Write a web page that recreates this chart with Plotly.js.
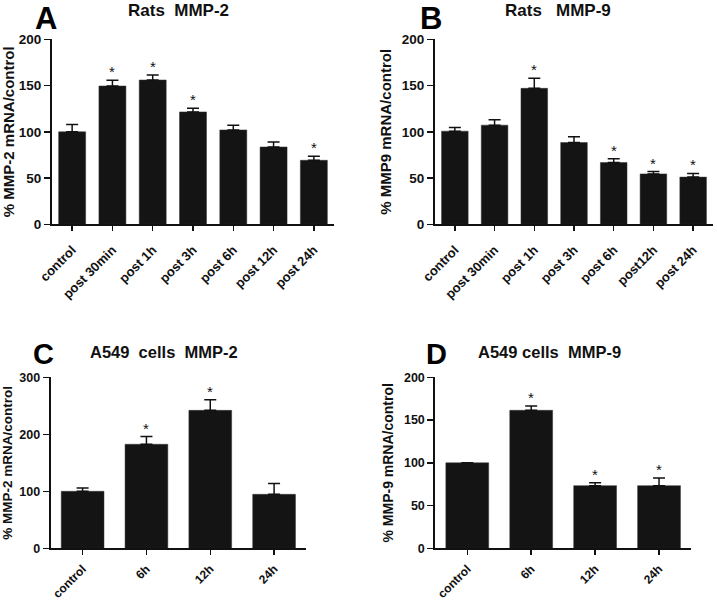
<!DOCTYPE html>
<html><head><meta charset="utf-8">
<script src="https://cdn.plot.ly/plotly-3.0.1.min.js"></script>
<style>body{margin:0;background:#fff}#chart{width:717px;height:600px}</style>
</head><body><div id="chart"></div>
<script>
// ---- data ----
const ratCategoriesA = ['control','post 30min','post 1h','post 3h','post 6h','post 12h','post 24h'];
const ratCategoriesB = ['control','post 30min','post 1h','post 3h','post 6h','post12h','post 24h'];
const ratMMP2 = [100, 149.5, 156, 121.5, 102, 83.6, 69.2];
const ratMMP2Err = [8, 6.2, 5.4, 4, 5, 5.4, 4.3];
const ratMMP2Sig = [false, true, true, true, false, false, true];
const ratMMP9 = [100.7, 107.2, 147, 88.4, 66.8, 54.5, 51];
const ratMMP9Err = [3.9, 5.8, 10.8, 6.2, 4, 2.5, 4];
const ratMMP9Sig = [false, false, true, false, true, true, true];
const cellCategories = ['control', '6h', '12h', '24h'];
const cellMMP2 = [100, 182.5, 242, 94.7];
const cellMMP2Err = [5.8, 13.5, 18.8, 18.8];
const cellMMP2Sig = [false, true, true, false];
const cellMMP9 = [100, 161.4, 73.3, 73.3];
const cellMMP9Err = [0, 5.1, 3.5, 9];
const cellMMP9Sig = [false, true, true, true];

const panelTitles = ['Rats  MMP-2', 'Rats   MMP-9', 'A549  cells  MMP-2', 'A549 cells  MMP-9'];
const panelLetters = ['A', 'B', 'C', 'D'];
const yTitles = ['% MMP-2 mRNA/control', '% MMP9 mRNA/control', '% MMP-2 mRNA/control', '% MMP-9 mRNA/control'];
const yMax = [200, 200, 300, 200];
const yTickStep = [50, 50, 100, 50];

// ---- styling / layout ----
const FONT = 'Liberation Sans, Arial, Helvetica, sans-serif';
const W = 717, H = 600;
const panels = [
  {cats: ratCategoriesA, vals: ratMMP2, errs: ratMMP2Err, sig: ratMMP2Sig,
   xd: [52, 334], yd: [39.3, 224.3], tick: 13.5, xtick: 13, xso: 6, ytitle: 15, sf: 5,
   title: [178.5, 11], letter: [45.5, 18], lsize: 31, tsize: 17},
  {cats: ratCategoriesB, vals: ratMMP9, errs: ratMMP9Err, sig: ratMMP9Sig,
   xd: [435, 713], yd: [39.3, 224.3], tick: 13.5, xtick: 13, xso: 6, ytitle: 15, sf: 7,
   title: [558, 11], letter: [431, 18], lsize: 31, tsize: 17},
  {cats: cellCategories, vals: cellMMP2, errs: cellMMP2Err, sig: cellMMP2Sig,
   xd: [50.7, 306], yd: [377.3, 548.3], tick: 12.5, xtick: 12, xso: 2, ytitle: 13.5, sf: 5,
   title: [164, 352], letter: [43, 354], lsize: 29, tsize: 16.5},
  {cats: cellCategories, vals: cellMMP9, errs: cellMMP9Err, sig: cellMMP9Sig,
   xd: [435.3, 691], yd: [377.3, 548.3], tick: 12.5, xtick: 12, xso: 2, ytitle: 14, sf: 7,
   title: [549, 352], letter: [436, 354], lsize: 29, tsize: 16.5}
];

const traces = [];
const layout = {
  width: W, height: H,
  margin: {l: 0, r: 0, t: 0, b: 0},
  paper_bgcolor: '#fff', plot_bgcolor: '#fff',
  showlegend: false, bargap: 0.33,
  font: {family: FONT, color: '#111'},
  annotations: []
};

panels.forEach((p, i) => {
  const n = i === 0 ? '' : String(i + 1);
  const xa = 'x' + n, ya = 'y' + n;
  traces.push({
    type: 'bar', x: p.cats, y: p.vals, xaxis: xa, yaxis: ya,
    marker: {color: '#141414', line: {color: '#333', width: 0.5}},
    error_y: {type: 'data', symmetric: false, array: p.errs,
              arrayminus: p.errs.map(() => 0), color: '#111', thickness: 1.5, width: 6},
    hoverinfo: 'x+y'
  });
  layout['xaxis' + n] = {
    domain: [p.xd[0] / W, p.xd[1] / W], anchor: ya,
    showline: true, linecolor: '#111', linewidth: 2,
    ticks: 'outside', ticklen: 5, tickwidth: 1.5, tickcolor: '#111',
    tickangle: -45, ticklabelstandoff: p.xso,
    showgrid: false, zeroline: false, fixedrange: true,
    tickfont: {family: FONT, size: p.xtick, weight: 'bold', color: '#111'}
  };
  layout['yaxis' + n] = {
    domain: [1 - p.yd[1] / H, 1 - p.yd[0] / H], anchor: xa,
    range: [0, yMax[i]], dtick: yTickStep[i], tick0: 0,
    showline: true, linecolor: '#111', linewidth: 2,
    ticks: 'outside', ticklen: 6, tickwidth: 1.5, tickcolor: '#111',
    showgrid: false, zeroline: false, fixedrange: true,
    tickfont: {family: FONT, size: p.tick, weight: 'bold', color: '#111'},
    title: {text: yTitles[i], standoff: p.sf,
            font: {family: FONT, size: p.ytitle, weight: 'bold', color: '#111'}}
  };
  // significance stars
  p.cats.forEach((c, k) => {
    if (p.sig[k]) {
      layout.annotations.push({
        xref: xa, yref: ya, x: c, y: p.vals[k] + p.errs[k],
        text: '*', showarrow: false, yanchor: 'bottom', yshift: -2,
        font: {family: FONT, size: 15, color: '#111'}
      });
    }
  });
  // panel title
  layout.annotations.push({
    xref: 'paper', yref: 'paper', x: p.title[0] / W, y: 1 - p.title[1] / H,
    xanchor: 'center', yanchor: 'middle', showarrow: false, text: panelTitles[i],
    font: {family: FONT, size: p.tsize, weight: 'bold', color: '#111'}
  });
  // panel letter
  layout.annotations.push({
    xref: 'paper', yref: 'paper', x: p.letter[0] / W, y: 1 - p.letter[1] / H,
    xanchor: 'center', yanchor: 'middle', showarrow: false, text: panelLetters[i],
    font: {family: FONT, size: p.lsize, weight: 'bold', color: '#000'}
  });
});

Plotly.newPlot('chart', traces, layout, {displayModeBar: false, staticPlot: true});
</script>
</body></html>
